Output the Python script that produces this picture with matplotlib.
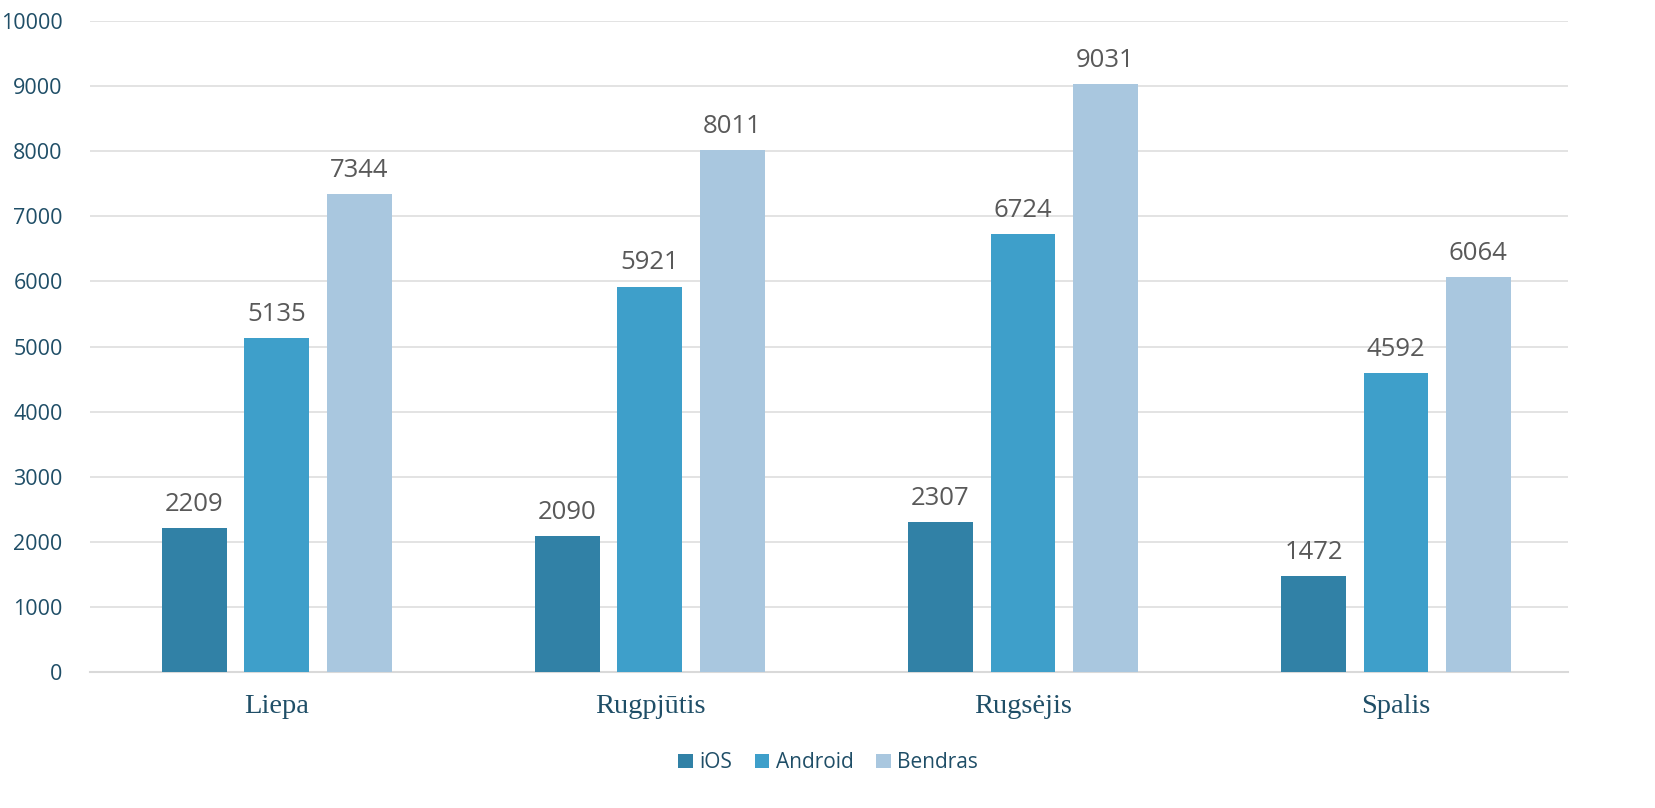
import numpy as np
import matplotlib.pyplot as plt

months = ["Liepa", "Rugpjūtis", "Rugsėjis", "Spalis"]
series_names = ["iOS", "Android", "Bendras"]
ios = [2209, 2090, 2307, 1472]
android = [5135, 5921, 6724, 4592]
bendras = [7344, 8011, 9031, 6064]
colors = ["#3181A6", "#3E9FCA", "#A9C7DF"]

fig = plt.figure(figsize=(16.56, 8.08), dpi=100)
ax = fig.add_axes([0.0546, 0.1683, 0.892, 0.8057])

x = np.arange(len(months))
width = 0.174
pitch = 0.221
for i, (vals, name) in enumerate(zip([ios, android, bendras], series_names)):
    bars = ax.bar(x + (i - 1) * pitch, vals, width, color=colors[i], label=name, zorder=3)
    for b, v in zip(bars, vals):
        ax.text(b.get_x() + b.get_width() / 2, v + 170, str(v), ha="center", va="bottom",
                fontsize=18.5, color="#595959", family="Open Sans")

ax.set_xlim(-0.5, 3.46)
ax.set_ylim(0, 10000)
ax.set_yticks(range(0, 10001, 1000))
ax.grid(axis="y", color="#E0E0E0", linewidth=1.3, zorder=0)
for s in ["top", "right", "left"]:
    ax.spines[s].set_visible(False)
ax.spines["bottom"].set_color("#D9D9D9")
ax.spines["bottom"].set_linewidth(1.5)
ax.tick_params(axis="both", length=0)
ax.tick_params(axis="y", pad=20)
ax.tick_params(axis="x", pad=16)
ax.set_xticks(x)
ax.set_xticklabels(months, fontsize=20.5, color="#1F4E67", family="Liberation Serif")
for lab in ax.get_yticklabels():
    lab.set_fontsize(15.5)
    lab.set_color("#1F4E67")
    lab.set_family("Open Sans")

leg = fig.legend(loc="lower center", bbox_to_anchor=(0.5, 0.025), ncol=3, frameon=False,
                 prop={"family": "Open Sans", "size": 15}, handlelength=0.7, handleheight=0.7,
                 handletextpad=0.3, columnspacing=1.1, borderpad=0.2)
for t in leg.get_texts():
    t.set_color("#1F4E67")

fig.savefig("out.png", dpi=100)
